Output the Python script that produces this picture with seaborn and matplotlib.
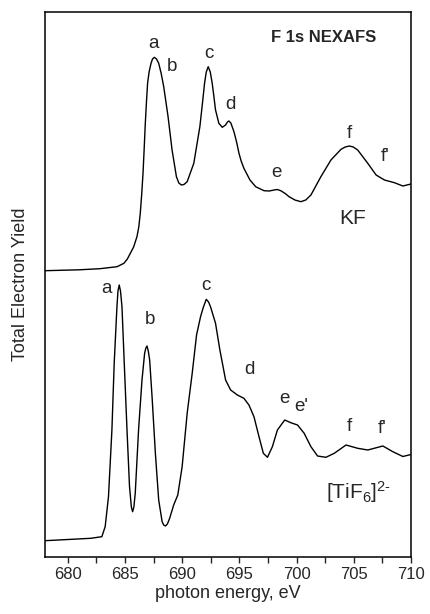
import matplotlib
matplotlib.use("Agg")
import matplotlib.pyplot as plt
import pandas as pd
import seaborn as sns
from matplotlib.ticker import MultipleLocator

# ---- data (arbitrary intensity units) ----
kf_energy = [678.0, 681.0, 682.8, 684.3, 684.9, 685.2, 685.46, 685.75, 686.04, 686.2,
             686.33, 686.45, 686.57, 686.67, 686.77, 686.87, 686.97, 687.1, 687.27, 687.4,
             687.56, 687.75, 687.94, 688.15, 688.38, 688.76, 689.11, 689.49, 689.7, 689.93,
             690.15, 690.43, 691.01, 691.54, 691.75, 691.95, 692.1, 692.27, 692.45, 692.62,
             692.75, 692.91, 693.20, 693.50, 693.79, 693.95, 694.08, 694.25, 694.52, 694.75,
             694.96, 695.15, 695.39, 695.92, 696.42, 697.15, 697.6, 698.03, 698.3, 698.61,
             699.0, 699.34, 699.85, 700.37, 700.8, 701.25, 702.12, 703.0, 703.88, 704.25,
             704.61, 704.95, 705.34, 706.22, 706.95, 707.68, 708.55, 709.29, 710.0]
kf_yield = [286.3, 287.2, 288.3, 290.3, 293.7, 298.0, 303.7, 310.0, 320.3, 330.0,
            343.7, 362.0, 383.7, 408.0, 433.7, 455.0, 473.7, 485.0, 493.7, 498.0,
            499.7, 498.0, 493.7, 484.0, 470.3, 440.3, 407.0, 380.3, 374.0, 372.0,
            372.5, 375.3, 393.7, 430.3, 452.0, 473.7, 485.0, 490.3, 485.0, 473.7,
            462.0, 447.0, 433.7, 429.7, 432.0, 435.0, 436.0, 434.0, 425.3, 415.0,
            403.7, 396.0, 388.7, 377.0, 370.3, 366.3, 366.0, 367.0, 367.5, 366.3,
            363.5, 360.3, 357.0, 355.3, 357.0, 362.0, 380.3, 397.0, 407.7, 410.0,
            411.0, 410.0, 407.0, 393.7, 382.0, 377.0, 374.3, 371.0, 373.0]

tif6_energy = [678.0, 680.0, 682.0, 682.97, 683.26, 683.55, 683.85, 684.05, 684.29, 684.38,
               684.49, 684.6, 684.73, 684.93, 685.17, 685.39, 685.55, 685.66, 685.77, 685.89,
               686.18, 686.48, 686.71, 686.82, 686.92, 687.03, 687.15, 687.36, 687.65, 687.94,
               688.24, 688.38, 688.53, 688.7, 688.9, 689.25, 689.61, 689.99, 690.43, 690.87,
               691.25, 691.6, 691.85, 692.1, 692.3, 692.47, 692.91, 693.29, 693.79, 694.23,
               694.82, 695.39, 695.83, 696.27, 696.71, 697.09, 697.45, 697.88, 698.32, 698.96,
               699.49, 700.08, 700.66, 701.25, 701.83, 702.56, 703.29, 704.32, 705.34, 706.22,
               707.54, 708.41, 709.29, 710.0]
tif6_yield = [16.3, 17.5, 18.7, 20.3, 30.3, 60.3, 127.0, 193.7, 250.3, 266.0,
              272.0, 266.0, 250.3, 193.7, 127.0, 70.3, 50.0, 45.3, 50.0, 63.7,
              127.0, 177.0, 203.7, 209.0, 211.0, 206.0, 197.0, 160.3, 103.7, 57.0,
              35.3, 32.0, 31.0, 33.0, 38.7, 52.0, 62.0, 90.3, 143.7, 183.7,
              222.0, 240.3, 250.0, 257.7, 255.0, 250.3, 233.7, 207.0, 177.0, 167.0,
              162.0, 158.7, 152.0, 140.3, 120.3, 103.7, 99.7, 110.3, 127.0, 137.0,
              134.3, 132.0, 123.7, 110.3, 101.0, 99.7, 103.7, 112.0, 108.7, 107.0,
              111.0, 105.3, 100.5, 102.5]

kf_peak_labels = ["a", "b", "c", "d", "e", "f", "f'"]
kf_peak_x = [687.5, 689.1, 692.3, 694.2, 698.2, 704.6, 707.7]
kf_peak_y = [513.7, 490.3, 503.7, 452.7, 384.3, 423.7, 400.3]

tif6_peak_labels = ["a", "b", "c", "d", "e", "e'", "f", "f'"]
tif6_peak_x = [683.4, 687.2, 692.1, 695.9, 698.9, 700.4, 704.6, 707.5]
tif6_peak_y = [268.7, 237.0, 272.0, 187.0, 158.7, 150.3, 130.3, 128.7]

x_ticks = [680, 685, 690, 695, 700, 705, 710]

# ---- style ----
sns.set_style("ticks")
plt.rcParams['font.family'] = ['Liberation Sans', 'DejaVu Sans']
plt.rcParams['mathtext.fontset'] = 'custom'
plt.rcParams['mathtext.rm'] = 'Liberation Sans'
plt.rcParams['mathtext.it'] = 'Liberation Sans:italic'
plt.rcParams['mathtext.bf'] = 'Liberation Sans:bold'

df = pd.concat([
    pd.DataFrame({"energy": kf_energy, "yield": kf_yield, "sample": "KF"}),
    pd.DataFrame({"energy": tif6_energy, "yield": tif6_yield, "sample": "TiF6"}),
], ignore_index=True)

fig = plt.figure(figsize=(4.3, 6.14), dpi=100)
ax = fig.add_axes([45 / 430, 57 / 614, 366 / 430, 545 / 614])

sns.lineplot(data=df, x="energy", y="yield", hue="sample", units="sample",
             estimator=None, palette=["black", "black"], legend=False,
             sort=False, linewidth=1.0, ax=ax)

ax.set_xlim(678, 710)
ax.set_ylim(0, 545)
ax.set_yticks([])
ax.set_xticks(x_ticks)
ax.xaxis.set_minor_locator(MultipleLocator(2.5))
ax.tick_params(axis='x', which='both', direction='out', length=4, width=1.0,
               labelsize=12, top=False, pad=3)
for sp in ax.spines.values():
    sp.set_visible(True)
    sp.set_linewidth(1.1)
    sp.set_color("black")

ax.set_xlabel("photon energy, eV", fontsize=13, labelpad=2)
ax.set_ylabel("Total Electron Yield", fontsize=13)
ax.yaxis.set_label_coords(-0.045, 0.5)

for s, x, y in zip(kf_peak_labels, kf_peak_x, kf_peak_y):
    ax.text(x, y, s, ha="center", va="center", fontsize=13.5)
for s, x, y in zip(tif6_peak_labels, tif6_peak_x, tif6_peak_y):
    ax.text(x, y, s, ha="center", va="center", fontsize=13.5)

ax.text(702.4, 519, "F 1s NEXAFS", ha="center", va="center", fontsize=12,
        fontweight="bold")
ax.text(704.9, 339, "KF", ha="center", va="center", fontsize=15)
ax.text(702.55, 65, "[TiF$_{\\mathregular{6}}$]$^{\\mathregular{2\u2010}}$",
        ha="left", va="center", fontsize=15)

fig.savefig("out.png", dpi=100)
